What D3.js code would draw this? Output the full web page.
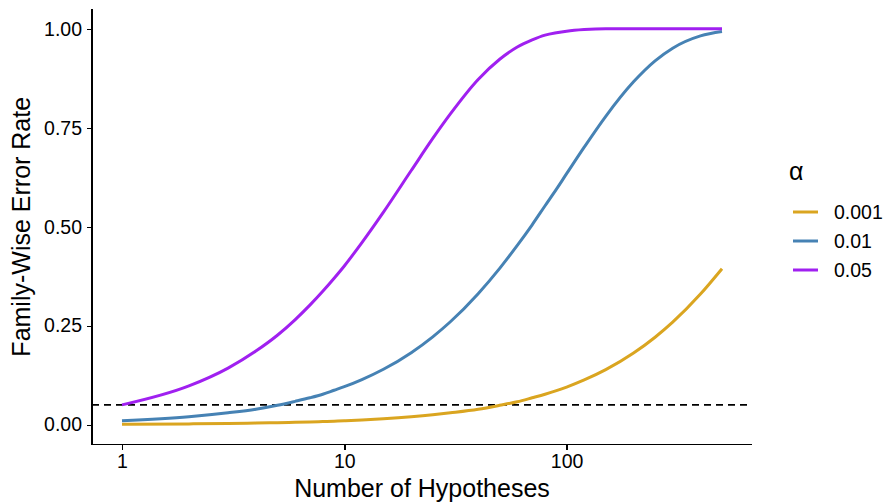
<!DOCTYPE html>
<meta charset="utf-8">
<head>
<style>
body { margin: 0; background: #fff; font-family: "Liberation Sans", Arial, sans-serif; }
.axis path, .axis line { stroke: #000; stroke-width: 1.4px; shape-rendering: crispEdges; }
.line { fill: none; stroke-width: 3px; stroke-linejoin: round; }
</style>
<script src="https://d3js.org/d3.v7.min.js"></script>
</head>
<body>
<div id="chart"></div>
<script>

// number of hypotheses tested
var hypotheses = [1, 2, 3, 4, 5, 6, 7, 8, 9, 10, 12, 15, 20, 25, 30, 40, 50, 60, 70, 80, 90, 100, 120, 150, 200, 250, 300, 400, 500];

// family-wise error rate, one array per alpha
var fwer001 = [0.001, 0.002, 0.003, 0.004, 0.005, 0.006, 0.007, 0.008, 0.009, 0.010, 0.012, 0.015, 0.020, 0.025, 0.030, 0.039, 0.049, 0.058, 0.068, 0.077, 0.086, 0.095, 0.113, 0.139, 0.181, 0.221, 0.259, 0.330, 0.394];
var fwer01  = [0.010, 0.020, 0.030, 0.039, 0.049, 0.059, 0.068, 0.077, 0.087, 0.096, 0.114, 0.140, 0.182, 0.222, 0.260, 0.331, 0.395, 0.453, 0.505, 0.553, 0.595, 0.634, 0.701, 0.779, 0.866, 0.919, 0.951, 0.982, 0.993];
var fwer05  = [0.050, 0.098, 0.143, 0.186, 0.226, 0.265, 0.302, 0.337, 0.370, 0.401, 0.460, 0.537, 0.642, 0.723, 0.785, 0.872, 0.923, 0.954, 0.972, 0.984, 0.990, 0.994, 0.998, 1.000, 1.000, 1.000, 1.000, 1.000, 1.000];

var alphas = ["0.001", "0.01", "0.05"];
var colors = ["#DAA520", "#4682B4", "#A020F0"];
var yTicks = [0, 0.25, 0.5, 0.75, 1];
var xTicks = [1, 10, 100];
var threshold = 0.05;

var series = [fwer001, fwer01, fwer05].map(function(vals, i) {
  return {
    name: alphas[i],
    values: hypotheses.map(function(n, j) { return {n: n, p: vals[j]}; })
  };
});

var W = 884, H = 503;
var pLeft = 92, pRight = 752, pTop = 9, pBottom = 444.5;
var tickFont = 19.5, titleFont = 25;

var svg = d3.select("#chart").append("svg")
  .attr("width", W)
  .attr("height", H);

var lo = Math.log10(1), hi = Math.log10(500), pad = (hi - lo) * 0.05;
var x = d3.scaleLog()
  .domain([Math.pow(10, lo - pad), Math.pow(10, hi + pad)])
  .range([pLeft, pRight]);

var y = d3.scaleLinear()
  .domain([-0.05, 1.05])
  .range([pBottom, pTop]);

var color = d3.scaleOrdinal().domain(alphas).range(colors);

// axes
var xAxis = svg.append("g")
  .attr("class", "axis")
  .attr("transform", "translate(0," + pBottom + ")")
  .call(d3.axisBottom(x).tickValues(xTicks).tickFormat(d3.format("d")).tickSize(5).tickSizeOuter(0).tickPadding(5));
xAxis.select(".domain").attr("d", "M" + pLeft + ",0H" + pRight);

var yAxis = svg.append("g")
  .attr("class", "axis")
  .attr("transform", "translate(" + pLeft + ",0)")
  .call(d3.axisLeft(y).tickValues(yTicks).tickFormat(d3.format(".2f")).tickSize(5).tickSizeOuter(0).tickPadding(5));
yAxis.select(".domain").attr("d", "M0," + pTop + "V" + pBottom);

svg.selectAll(".axis")
  .attr("font-size", tickFont)
  .attr("font-family", "Liberation Sans, Arial, sans-serif")
  .selectAll("text").attr("fill", "#000");

// threshold line
svg.append("line")
  .attr("x1", pLeft).attr("x2", pRight)
  .attr("y1", y(threshold)).attr("y2", y(threshold))
  .attr("stroke", "#000")
  .attr("stroke-width", 1.6)
  .attr("stroke-dasharray", "7,5");

// curves
var line = d3.line()
  .curve(d3.curveMonotoneX)
  .x(function(d) { return x(d.n); })
  .y(function(d) { return y(d.p); });

svg.selectAll(".line")
  .data(series)
  .enter()
  .append("path")
    .attr("class", "line")
    .attr("d", function(d) { return line(d.values); })
    .attr("stroke", function(d) { return color(d.name); });

// axis titles
svg.append("text")
  .attr("x", (pLeft + pRight) / 2)
  .attr("y", 497)
  .attr("text-anchor", "middle")
  .style("font-size", titleFont + "px")
  .text("Number of Hypotheses");

svg.append("text")
  .attr("transform", "translate(30," + ((pTop + pBottom) / 2) + ") rotate(-90)")
  .attr("text-anchor", "middle")
  .style("font-size", titleFont + "px")
  .text("Family-Wise Error Rate");

// legend
var legend = svg.append("g").attr("transform", "translate(789,0)");
legend.append("text")
  .attr("x", 0).attr("y", 180)
  .style("font-size", titleFont + "px")
  .text("α");

var item = legend.selectAll(".item")
  .data(alphas)
  .enter()
  .append("g")
    .attr("transform", function(d, i) { return "translate(0," + (212 + i * 29) + ")"; });
item.append("line")
  .attr("x1", 4).attr("x2", 29)
  .attr("stroke", function(d) { return color(d); })
  .attr("stroke-width", 3);
item.append("text")
  .attr("x", 45).attr("y", 7)
  .style("font-size", tickFont + "px")
  .text(function(d) { return d; });

</script>
</body>
</html>
